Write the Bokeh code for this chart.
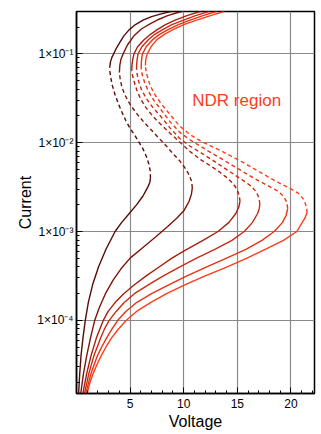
from bokeh.plotting import figure
from bokeh.models import FixedTicker, CustomJSTickFormatter, Range1d, Label
from bokeh.embed import file_html
from bokeh.resources import INLINE

# ---- data (Voltage, Current) for six S-shaped I-V curves ----
v1 = [0.2, 0.3, 0.42, 0.6, 0.82, 1.1, 1.5, 2.05, 2.75, 3.6, 4.2, 4.9, 5.6, 6.2, 6.65, 6.83, 6.9,
      6.88, 6.75, 6.5, 6.2, 5.85, 5.45, 5.0, 4.6, 4.25, 3.9, 3.6, 3.35, 3.2, 3.12, 3.1,
      3.17, 3.3, 3.47, 3.7, 4.0, 4.4, 4.9, 5.5, 6.2, 7.0, 7.9, 8.9]
i1 = [1.514e-5, 2.512e-5, 3.981e-5, 6.31e-5, 1.0e-4, 1.585e-4, 2.512e-4, 3.981e-4, 6.31e-4, 1.0e-3, 1.259e-3,
      1.585e-3, 1.995e-3, 2.512e-3, 3.162e-3, 3.548e-3, 3.981e-3,
      4.786e-3, 5.754e-3, 7.079e-3, 8.511e-3, 1.0e-2, 1.202e-2, 1.445e-2, 1.778e-2, 2.188e-2, 2.754e-2,
      3.467e-2, 4.365e-2, 5.37e-2, 6.31e-2, 7.079e-2,
      8.128e-2, 9.12e-2, 0.1, 0.1148, 0.1318, 0.1585, 0.1862, 0.2138, 0.2399, 0.263, 0.2818, 0.302]

v2 = [0.4, 0.65, 0.95, 1.3, 1.7, 2.15, 2.7, 3.4, 4.15, 5.0, 6.2, 7.4, 8.45, 9.35, 10.05, 10.5, 10.72, 10.8,
      10.75, 10.5, 10.1, 9.6, 9.05, 8.4, 7.7, 7.0, 6.3, 5.6, 5.0, 4.55, 4.25, 4.08, 4.0,
      4.04, 4.15, 4.35, 4.75, 5.34, 6.05, 6.9, 7.7, 8.5, 9.3, 9.9]
i2 = [1.514e-5, 2.512e-5, 3.981e-5, 6.31e-5, 1.0e-4, 1.413e-4, 1.995e-4, 2.818e-4, 3.802e-4, 5.012e-4, 6.607e-4,
      8.71e-4, 1.122e-3, 1.413e-3, 1.738e-3, 2.188e-3, 2.63e-3, 3.09e-3,
      3.631e-3, 4.365e-3, 5.248e-3, 6.31e-3, 7.413e-3, 9.12e-3, 1.122e-2, 1.38e-2, 1.698e-2, 2.138e-2,
      2.692e-2, 3.388e-2, 4.169e-2, 5.129e-2, 6.166e-2,
      7.413e-2, 8.71e-2, 0.1, 0.1259, 0.1585, 0.1905, 0.2188, 0.2455, 0.2692, 0.2884, 0.302]

v3 = [0.6, 0.95, 1.35, 1.85, 2.5, 2.95, 3.6, 4.4, 5.4, 6.5, 7.7, 8.9, 10.0, 11.8, 13.2, 14.2, 14.85, 15.15, 15.25,
      15.18, 14.95, 14.6, 14.1, 13.4, 12.5, 11.57, 10.6, 9.6, 8.7, 7.83, 7.1, 6.45, 5.95, 5.6, 5.35, 5.2, 5.15,
      5.18, 5.25, 5.36, 5.7, 6.3, 6.9, 7.5, 8.3, 9.2, 10.3, 11.6]
i3 = [1.514e-5, 2.512e-5, 3.981e-5, 6.31e-5, 1.0e-4, 1.259e-4, 1.585e-4, 1.995e-4, 2.512e-4, 3.162e-4, 3.981e-4,
      5.012e-4, 6.026e-4, 7.943e-4, 1.0e-3, 1.259e-3, 1.585e-3, 1.905e-3, 2.188e-3,
      2.57e-3, 3.02e-3, 3.467e-3, 3.981e-3, 4.624e-3, 5.495e-3, 6.457e-3, 7.943e-3, 1.023e-2, 1.288e-2,
      1.622e-2, 1.995e-2, 2.512e-2, 3.162e-2, 3.981e-2, 5.012e-2, 5.888e-2, 6.457e-2,
      7.586e-2, 8.71e-2, 0.1, 0.1202, 0.1445, 0.166, 0.1862, 0.2138, 0.2399, 0.2692, 0.302]

v4 = [0.75, 1.15, 1.62, 2.25, 2.6, 3.05, 3.7, 4.45, 5.4, 6.7, 8.1, 9.6, 11.2, 12.9, 14.5, 15.65, 16.4, 16.88, 17.05, 17.1,
      17.02, 16.75, 16.3, 15.6, 14.6, 13.6, 12.6, 11.57, 10.6, 9.6, 8.7, 7.83, 7.1, 6.5, 6.05, 5.8, 5.66, 5.6,
      5.62, 5.66, 5.74, 6.1, 6.7, 7.3, 8.0, 8.9, 10.0, 11.1, 12.4]
i4 = [1.514e-5, 2.512e-5, 3.981e-5, 6.31e-5, 7.943e-5, 1.0e-4, 1.259e-4, 1.585e-4, 1.995e-4, 2.512e-4, 3.162e-4,
      3.981e-4, 5.012e-4, 6.31e-4, 7.943e-4, 1.0e-3, 1.259e-3, 1.585e-3, 1.82e-3, 2.042e-3,
      2.399e-3, 2.818e-3, 3.236e-3, 3.715e-3, 4.467e-3, 5.37e-3, 6.457e-3, 7.762e-3, 9.12e-3, 1.122e-2,
      1.479e-2, 1.995e-2, 2.512e-2, 3.162e-2, 3.981e-2, 4.898e-2, 5.888e-2, 6.761e-2,
      7.762e-2, 8.71e-2, 0.1, 0.1202, 0.1445, 0.166, 0.1862, 0.2138, 0.2399, 0.2692, 0.302]

v5 = [0.87, 1.35, 1.95, 2.35, 2.8, 3.3, 3.85, 4.6, 5.6, 7.0, 8.6, 10.3, 12.1, 14.0, 15.8, 17.3, 18.45, 19.2, 19.55, 19.7,
      19.62, 19.35, 18.85, 18.1, 17.0, 15.3, 13.5, 12.5, 11.57, 10.6, 9.6, 8.7, 7.83, 7.2, 6.7, 6.35, 6.12, 6.03,
      6.05, 6.08, 6.15, 6.5, 7.1, 7.75, 8.5, 9.5, 10.6, 11.8, 13.1]
i5 = [1.514e-5, 2.512e-5, 3.981e-5, 5.012e-5, 6.31e-5, 7.943e-5, 1.0e-4, 1.259e-4, 1.585e-4, 1.995e-4, 2.512e-4,
      3.162e-4, 3.981e-4, 5.012e-4, 6.31e-4, 7.943e-4, 1.0e-3, 1.259e-3, 1.514e-3, 1.82e-3,
      2.138e-3, 2.455e-3, 2.818e-3, 3.162e-3, 3.715e-3, 4.898e-3, 6.607e-3, 7.762e-3, 9.12e-3, 1.072e-2,
      1.318e-2, 1.738e-2, 2.399e-2, 3.02e-2, 3.802e-2, 4.786e-2, 5.888e-2, 7.079e-2,
      7.943e-2, 8.913e-2, 0.1, 0.1202, 0.1445, 0.166, 0.1862, 0.2138, 0.2399, 0.2692, 0.302]

v6 = [1.0, 1.25, 1.55, 1.9, 2.3, 2.75, 3.25, 3.9, 4.65, 5.6, 6.9, 8.4, 10.1, 12.0, 14.0, 15.9, 17.6, 19.3, 20.55,
      20.95, 21.3, 21.5,
      21.45, 21.2, 20.7, 20.0, 19.0, 17.5, 15.5, 13.45, 12.5, 11.57, 10.6, 9.6, 8.7, 7.83, 7.2, 6.8, 6.55, 6.45, 6.43,
      6.45, 6.5, 6.6, 6.95, 7.5, 8.2, 8.95, 10.0, 11.2, 12.5, 13.8]
i6 = [1.514e-5, 1.995e-5, 2.512e-5, 3.162e-5, 3.981e-5, 5.012e-5, 6.31e-5, 7.943e-5, 1.0e-4, 1.259e-4, 1.585e-4,
      1.995e-4, 2.512e-4, 3.162e-4, 3.981e-4, 5.012e-4, 6.31e-4, 7.943e-4, 1.0e-3, 1.202e-3, 1.413e-3, 1.622e-3,
      1.905e-3, 2.291e-3, 2.692e-3, 3.02e-3, 3.467e-3, 4.365e-3, 6.026e-3, 8.128e-3, 9.226e-3, 1.047e-2,
      1.23e-2, 1.549e-2, 2.089e-2, 2.818e-2, 3.631e-2, 4.677e-2, 5.888e-2, 6.918e-2, 7.413e-2,
      8.318e-2, 9.12e-2, 0.1, 0.1202, 0.1445, 0.166, 0.1862, 0.2138, 0.2399, 0.2692, 0.302]

# index of the max-V turning point (end of lower solid branch) and of the
# min-V turning point (end of the dashed NDR branch) of each curve
ndr_start = [16, 17, 18, 19, 19, 21]
ndr_end = [31, 32, 36, 37, 37, 40]

colors = ["#560d07", "#7d1509", "#a81e0c", "#cc2a10", "#e83214", "#ff3c1a"]

x_ticks = [5, 10, 15, 20]
x_minor = [1, 2, 3, 4, 6, 7, 8, 9, 11, 12, 13, 14, 16, 17, 18, 19, 21, 22]
y_ticks = [1e-4, 1e-3, 1e-2, 1e-1]
y_minor = [m * d for d in [1e-5, 1e-4, 1e-3, 1e-2, 1e-1] for m in range(2, 10)]

FONT = "Liberation Sans"

p = figure(width=321, height=434,
           x_range=Range1d(0, 22.2), y_range=Range1d(1.5e-5, 0.3),
           y_axis_type="log", output_backend="svg", toolbar_location=None,
           min_border_left=76, min_border_right=7, min_border_top=11, min_border_bottom=41)

p.background_fill_color = "white"
p.border_fill_color = "white"
p.outline_line_color = "black"
p.outline_line_width = 1.5
p.outline_line_alpha = 1.0

curves = [(v1, i1), (v2, i2), (v3, i3), (v4, i4), (v5, i5), (v6, i6)]
for k, (vv, ii) in enumerate(curves):
    a, b = ndr_start[k], ndr_end[k]
    c = colors[k]
    p.line(vv[:a + 1], ii[:a + 1], line_color=c, line_width=1.4, line_join="round")
    p.line(vv[a:b + 1], ii[a:b + 1], line_color=c, line_width=1.4, line_dash="4 3", line_join="round")
    p.line(vv[b:], ii[b:], line_color=c, line_width=1.4, line_join="round")

# axes
p.xaxis.ticker = FixedTicker(ticks=x_ticks, minor_ticks=x_minor)
p.yaxis.ticker = FixedTicker(ticks=y_ticks, minor_ticks=y_minor)
p.xgrid.ticker = FixedTicker(ticks=x_ticks)
p.ygrid.ticker = FixedTicker(ticks=y_ticks)
for g in (p.xgrid, p.ygrid):
    g.grid_line_color = "#8a8a8a"
    g.grid_line_width = 1.2

p.yaxis.formatter = CustomJSTickFormatter(code="""
const e = Math.round(Math.log10(tick));
const sup = {'-':'\u207b','0':'\u2070','1':'\u00b9','2':'\u00b2','3':'\u00b3','4':'\u2074','5':'\u2075','6':'\u2076','7':'\u2077','8':'\u2078','9':'\u2079'};
let s = '';
for (const ch of String(e)) { s += sup[ch]; }
return '1\u00d710' + s;
""")

for ax in (p.xaxis[0], p.yaxis[0]):
    ax.axis_line_color = "black"
    ax.axis_line_width = 1.5
    ax.major_tick_in = 6
    ax.major_tick_out = 0
    ax.minor_tick_in = 3
    ax.minor_tick_out = 0
    ax.major_tick_line_color = "black"
    ax.minor_tick_line_color = "black"
    ax.major_label_text_font = FONT
    ax.major_label_text_font_size = "12px"
    ax.major_label_text_color = "black"
    ax.axis_label_text_font = FONT
    ax.axis_label_text_font_size = "16px"
    ax.axis_label_text_font_style = "normal"
    ax.axis_label_text_color = "black"

p.xaxis.axis_label = "Voltage"
p.yaxis.axis_label = "Current"
p.xaxis.major_label_standoff = 5
p.yaxis.major_label_standoff = 3
p.xaxis.axis_label_standoff = 2
p.yaxis.axis_label_standoff = 0

p.add_layout(Label(x=10.8, y=0.0295, text="NDR region", text_font=FONT,
                   text_font_size="17px", text_color="#ff3b1e", text_baseline="middle"))

open("out.html", "w").write(file_html(p, INLINE))
